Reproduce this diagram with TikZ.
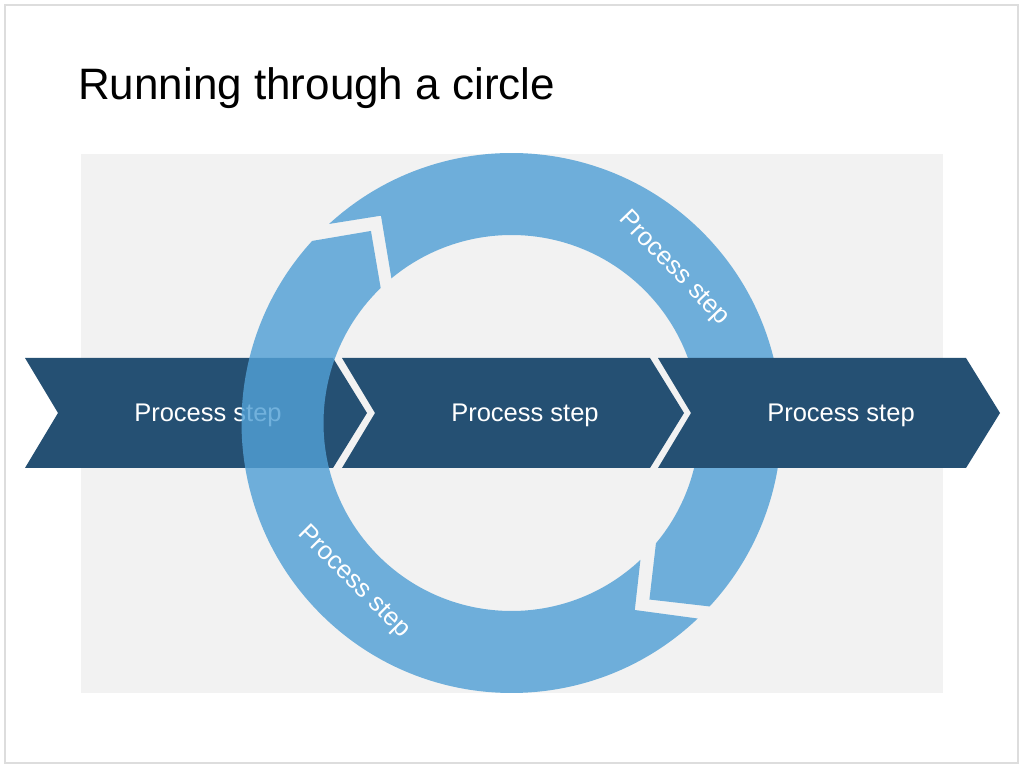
\documentclass[tikz,border=0pt]{standalone}
\usepackage{fontspec}
\setmainfont{Liberation Sans}
\usetikzlibrary{calc}
\definecolor{slideGrey}{HTML}{F2F2F2}
\definecolor{frameGrey}{HTML}{DDDDDD}
\definecolor{stepDark}{HTML}{255073}
\definecolor{ringBlue}{HTML}{52A0D5}
\tikzset{
  slideframe/.style = {draw=frameGrey, line width=2pt, fill=white},
  panel/.style      = {fill=slideGrey},
  chevron/.style    = {fill=stepDark},
  ringarc/.style    = {fill=ringBlue, fill opacity=0.82},
  steplbl/.style    = {text=white, font=\fontsize{25.5}{30}\selectfont, inner sep=0pt},
  titlelbl/.style   = {font=\fontsize{44}{52}\selectfont, anchor=base west, inner sep=0pt},
}
% one step of the row: #1 = left edge, #2 = node name
\newcommand{\stepchevron}[2]{%
  \fill[chevron] (#1,410) -- ++(308,0) -- ++(34,-55) -- ++(-34,-55) -- ++(-308,0) -- ++(33,55) -- cycle;
  \node[steplbl, anchor=base] (#2) at (#1+183,346) {Process step};
}

\begin{document}
\begin{tikzpicture}[x=1pt,y=1pt]
  \useasboundingbox[fill=white] (0,0) rectangle (1024,768);
  \draw[slideframe] (5,5) rectangle (1018,763);
  \node[titlelbl] (title) at (78,668) {Running through a circle};
  \fill[panel] (81,75) rectangle (943,614);

  \coordinate (ringc) at (511.5,345);

  % first step sits under the ring
  \stepchevron{25}{stepA}

  % the two arrows of the circle
  \fill[ringarc] ($(ringc)+(132.5:270)$) arc[start angle=132.5, end angle=-42.8, radius=270]
    -- ($(ringc)+(-52:224)$) -- ($(ringc)+(-39.8:188)$)
    arc[start angle=-39.8, end angle=129.7, radius=188]
    -- ($(ringc)+(122.2:245)$) -- cycle;
  \fill[ringarc] ($(ringc)+(-46.4:270)$) arc[start angle=-46.4, end angle=-222.4, radius=270]
    -- ($(ringc)+(-233.8:238)$) -- ($(ringc)+(-225.9:188)$)
    arc[start angle=-225.9, end angle=-46.7, radius=188]
    -- ($(ringc)+(-56.6:224)$) -- cycle;
  \node[steplbl, rotate=-46] (ringA) at ($(ringc)+(43.6:224)$) {Process step};
  \node[steplbl, rotate=-45] (ringB) at ($(ringc)+(225.2:224)$) {Process step};

  % the other two steps lie over it
  \stepchevron{342}{stepB}
  \stepchevron{658}{stepC}
\end{tikzpicture}
\end{document}
